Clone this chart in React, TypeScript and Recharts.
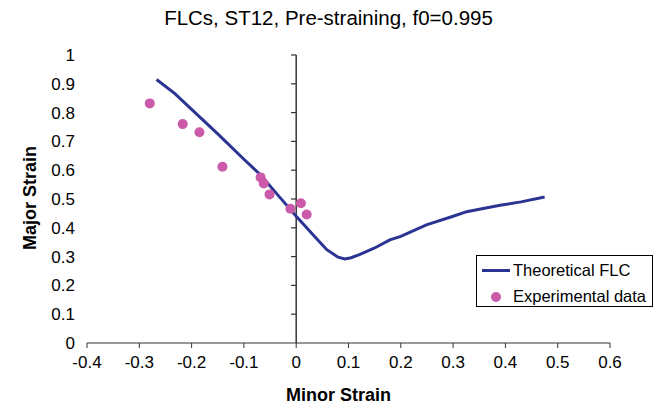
import React from 'react';
import { ComposedChart, Line, Scatter, XAxis, YAxis, ReferenceLine } from 'recharts';

const theoryX = [-0.267, -0.232, -0.2, -0.15, -0.1, -0.069, -0.03, 0, 0.03, 0.058, 0.08, 0.093, 0.105, 0.122, 0.15, 0.179, 0.2, 0.249, 0.3, 0.326, 0.36, 0.39, 0.43, 0.475];
const theoryY = [0.915, 0.866, 0.811, 0.726, 0.638, 0.585, 0.503, 0.44, 0.38, 0.325, 0.298, 0.292, 0.296, 0.308, 0.33, 0.358, 0.37, 0.41, 0.44, 0.456, 0.468, 0.478, 0.49, 0.507];
const expX = [-0.28, -0.217, -0.185, -0.141, -0.068, -0.062, -0.051, -0.011, 0.009, 0.02];
const expY = [0.832, 0.76, 0.732, 0.612, 0.575, 0.554, 0.516, 0.466, 0.485, 0.446];
const xTicks = [-0.4, -0.3, -0.2, -0.1, 0, 0.1, 0.2, 0.3, 0.4, 0.5, 0.6];
const yTicks = [0, 0.1, 0.2, 0.3, 0.4, 0.5, 0.6, 0.7, 0.8, 0.9, 1];

const theoryData = theoryX.map((x, i) => ({ x, y: theoryY[i] }));
const expData = expX.map((x, i) => ({ x, y: expY[i] }));

const FONT = '"Liberation Sans", Arial, sans-serif';
const LINE_COLOR = '#2B3492';
const DOT_COLOR = '#CC5AAA';
const AXIS_COLOR = '#333333';

const fmt = (v: number) => String(Math.round(v * 10) / 10);

const LegendBox = () => (
  <div style={{ position: 'absolute', left: 476, top: 255, border: '1px solid #000', width: 177, height: 52, boxSizing: 'border-box', background: '#fff', fontFamily: FONT, fontSize: 16.5, color: '#000' }}>
    <div style={{ position: 'absolute', left: 5, top: 13, width: 28, height: 3, background: LINE_COLOR }} />
    <div style={{ position: 'absolute', left: 36, top: 5, lineHeight: '18px', whiteSpace: 'nowrap' }}>Theoretical FLC</div>
    <div style={{ position: 'absolute', left: 14, top: 36, width: 10, height: 10, borderRadius: 5, background: DOT_COLOR }} />
    <div style={{ position: 'absolute', left: 36, top: 31, lineHeight: '18px', whiteSpace: 'nowrap' }}>Experimental data</div>
  </div>
);

export default function App() {
  return (
    <div style={{ position: 'absolute', left: 0, top: 0, width: 657, height: 408, background: '#fff', fontFamily: FONT }}>
      <ComposedChart width={657} height={408} margin={{ top: 55, right: 47, bottom: 35, left: 57 }} style={{ position: 'absolute', left: 0, top: 0 }}>
        <XAxis
          type="number"
          dataKey="x"
          domain={[-0.4, 0.6]}
          ticks={xTicks}
          tickFormatter={fmt}
          allowDataOverflow
          height={30}
          stroke={AXIS_COLOR}
          tickSize={5}
          tickMargin={8}
          tick={{ fill: '#000', fontSize: 17, fontFamily: FONT }}
        />
        <YAxis
          type="number"
          dataKey="y"
          domain={[0, 1]}
          ticks={yTicks}
          tickFormatter={fmt}
          width={30}
          axisLine={false}
          tickLine={false}
          tickSize={0}
          tickMargin={12}
          tick={{ fill: '#000', fontSize: 17, fontFamily: FONT }}
        />
        <ReferenceLine x={0} stroke={AXIS_COLOR} strokeWidth={1.5} />
        {yTicks.slice(1).map((t) => (
          <ReferenceLine key={t} segment={[{ x: -0.01, y: t }, { x: 0, y: t }]} stroke={AXIS_COLOR} strokeWidth={1.2} />
        ))}
        <Line data={theoryData} dataKey="y" type="linear" stroke={LINE_COLOR} strokeWidth={3} dot={false} isAnimationActive={false} name="Theoretical FLC" />
        <Scatter data={expData} dataKey="y" fill={DOT_COLOR} isAnimationActive={false} name="Experimental data"
          shape={(p: any) => <circle cx={p.cx} cy={p.cy} r={5} fill={DOT_COLOR} />} />
      </ComposedChart>
      <div style={{ position: 'absolute', left: 0, width: 657, top: 7, textAlign: 'center', fontSize: 20.5, color: '#000', lineHeight: '22px' }}>
        FLCs, ST12, Pre-straining, f0=0.995
      </div>
      <div style={{ position: 'absolute', left: 286, top: 384, fontSize: 18, fontWeight: 'bold', color: '#000', lineHeight: '22px', whiteSpace: 'nowrap' }}>
        Minor Strain
      </div>
      <div style={{ position: 'absolute', left: 30, top: 198, transform: 'translate(-50%, -50%) rotate(-90deg)', fontSize: 18, fontWeight: 'bold', color: '#000', whiteSpace: 'nowrap', lineHeight: '22px' }}>
        Major Strain
      </div>
      <LegendBox />
    </div>
  );
}
